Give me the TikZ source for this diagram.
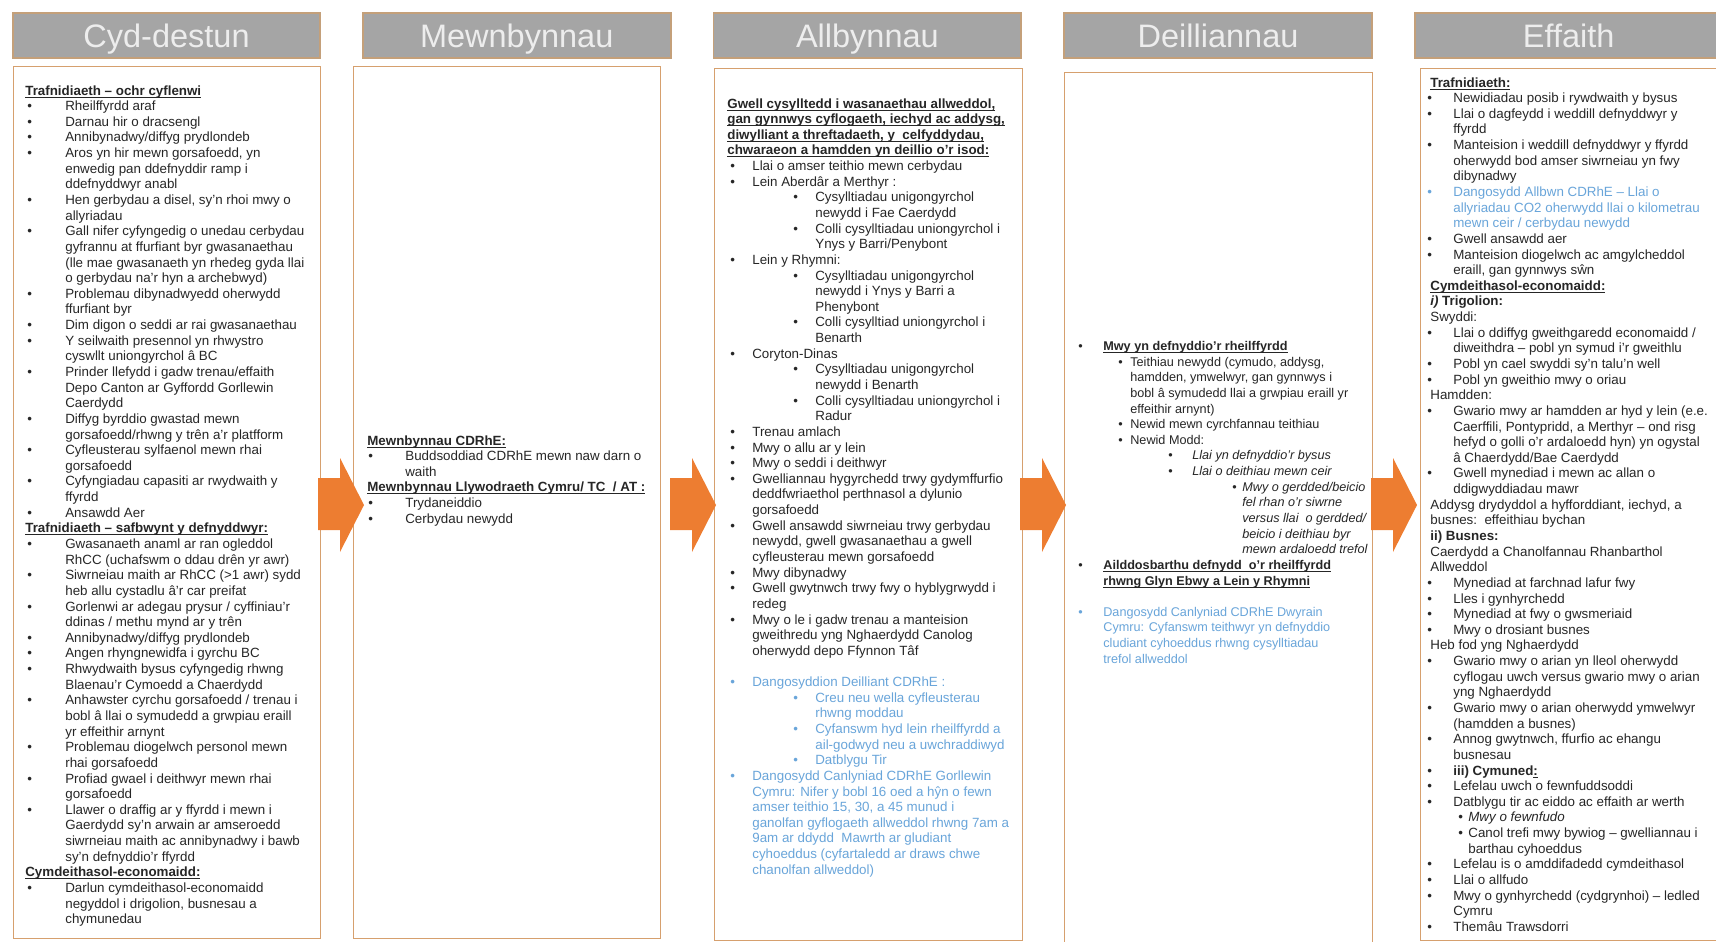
\documentclass[tikz,border=0pt]{standalone}
\usepackage{fontspec}
\setmainfont{Liberation Sans}
\usetikzlibrary{positioning}
\definecolor{hdrgray}{RGB}{165,165,165}
\definecolor{hdrline}{RGB}{196,160,122}
\definecolor{boxline}{RGB}{214,160,110}
\definecolor{arrorange}{RGB}{237,125,49}
\definecolor{txtgray}{RGB}{38,38,38}
\definecolor{idblue}{RGB}{105,165,218}
\newdimen\pxw \pxw=0.02cm
\newcommand{\itm}[2]{\hspace*{#1\pxw}\makebox[#2\pxw][l]{\textbullet}}
\newcommand{\cnt}[1]{\hspace*{#1\pxw}}
\newcommand{\ulx}[1]{\sbox0{#1}\rlap{\rule[-1.3pt]{\wd0}{0.45pt}}\box0}

\begin{document}
\begin{tikzpicture}[x=0.02cm, y=-0.02cm,
  hdr/.style={draw=hdrline, line width=1pt, fill=hdrgray, text=white!93!black, font=\fontsize{18.5}{20}\selectfont, minimum width=6.16cm, minimum height=0.9cm, text height=15.3pt, text depth=2pt, inner sep=0pt},
  box/.style={draw=boxline, line width=0.6pt, fill=white, anchor=north west, minimum height=17.44cm, inner sep=0pt},
  txt/.style={anchor=north west, align=left, inner sep=0pt, text=txtgray, font=\fontsize{7.6}{8.9}\selectfont},
  arw/.style={fill=arrorange}]
  \clip (0,0) rectangle (1716,941);

  % column heads
  \node[hdr, minimum width=6.14cm] (hdA) at (166.5,35.5) {Cyd-destun};
  \node[hdr, right=0.82cm of hdA] (hdB) {Mewnbynnau};
  \node[hdr, right=0.82cm of hdB] (hdC) {Allbynnau};
  \node[hdr, right=0.82cm of hdC] (hdD) {Deilliannau};
  \node[hdr, right=0.82cm of hdD] (hdE) {Effaith};

  % column boxes
  \node[box, minimum width=6.14cm] (bxA) at (13,66) {};
  \node[box, minimum width=6.14cm] (bxB) at (353,66) {};
  \node[box, minimum width=6.16cm] (bxC) at (714,68) {};
  \node[box, minimum width=6.16cm] (bxD) at (1064,72) {};
  \node[box, minimum width=6.3cm] (bxE) at (1420,68) {};

  % block arrows
  \fill[arw] (318,478) -- ++(22,0) -- ++(0,-20) -- ++(24,47) -- ++(-24,47) -- ++(0,-22) -- ++(-22,0) -- cycle;
  \fill[arw] (670,478) -- ++(22,0) -- ++(0,-20) -- ++(24,47) -- ++(-24,47) -- ++(0,-22) -- ++(-22,0) -- cycle;
  \fill[arw] (1020,478) -- ++(22,0) -- ++(0,-20) -- ++(24,47) -- ++(-24,47) -- ++(0,-22) -- ++(-22,0) -- cycle;
  \fill[arw] (1371,478) -- ++(22,0) -- ++(0,-20) -- ++(24,47) -- ++(-24,47) -- ++(0,-22) -- ++(-22,0) -- cycle;

  % Cyd-destun
  \node[txt] (tA) at (25,85) {%
    \ulx{\textbf{Trafnidiaeth -- ochr cyflenwi}}\\
    \itm{2}{38}Rheilffyrdd araf\\
    \itm{2}{38}Darnau hir o dracsengl\\
    \itm{2}{38}Annibynadwy/diffyg prydlondeb\\
    \itm{2}{38}Aros yn hir mewn gorsafoedd, yn\\
    \cnt{40}enwedig pan ddefnyddir ramp i\\
    \cnt{40}ddefnyddwyr anabl\\
    \itm{2}{38}Hen gerbydau a disel, sy'n rhoi mwy o\\
    \cnt{40}allyriadau\\
    \itm{2}{38}Gall nifer cyfyngedig o unedau cerbydau\\
    \cnt{40}gyfrannu at ffurfiant byr gwasanaethau\\
    \cnt{40}(lle mae gwasanaeth yn rhedeg gyda llai\\
    \cnt{40}o gerbydau na'r hyn a archebwyd)\\
    \itm{2}{38}Problemau dibynadwyedd oherwydd\\
    \cnt{40}ffurfiant byr\\
    \itm{2}{38}Dim digon o seddi ar rai gwasanaethau\\
    \itm{2}{38}Y seilwaith presennol yn rhwystro\\
    \cnt{40}cyswllt uniongyrchol â BC\\
    \itm{2}{38}Prinder llefydd i gadw trenau/effaith\\
    \cnt{40}Depo Canton ar Gyffordd Gorllewin\\
    \cnt{40}Caerdydd\\
    \itm{2}{38}Diffyg byrddio gwastad mewn\\
    \cnt{40}gorsafoedd/rhwng y trên a'r platfform\\
    \itm{2}{38}Cyfleusterau sylfaenol mewn rhai\\
    \cnt{40}gorsafoedd\\
    \itm{2}{38}Cyfyngiadau capasiti ar rwydwaith y\\
    \cnt{40}ffyrdd\\
    \itm{2}{38}Ansawdd Aer\\
    \ulx{\textbf{Trafnidiaeth -- safbwynt y defnyddwyr:}}\\
    \itm{2}{38}Gwasanaeth anaml ar ran ogleddol\\
    \cnt{40}RhCC (uchafswm o ddau drên yr awr)\\
    \itm{2}{38}Siwrneiau maith ar RhCC (>1 awr) sydd\\
    \cnt{40}heb allu cystadlu â'r car preifat\\
    \itm{2}{38}Gorlenwi ar adegau prysur / cyffiniau'r\\
    \cnt{40}ddinas / methu mynd ar y trên\\
    \itm{2}{38}Annibynadwy/diffyg prydlondeb\\
    \itm{2}{38}Angen rhyngnewidfa i gyrchu BC\\
    \itm{2}{38}Rhwydwaith bysus cyfyngedig rhwng\\
    \cnt{40}Blaenau'r Cymoedd a Chaerdydd\\
    \itm{2}{38}Anhawster cyrchu gorsafoedd / trenau i\\
    \cnt{40}bobl â llai o symudedd a grwpiau eraill\\
    \cnt{40}yr effeithir arnynt\\
    \itm{2}{38}Problemau diogelwch personol mewn\\
    \cnt{40}rhai gorsafoedd\\
    \itm{2}{38}Profiad gwael i deithwyr mewn rhai\\
    \cnt{40}gorsafoedd\\
    \itm{2}{38}Llawer o draffig ar y ffyrdd i mewn i\\
    \cnt{40}Gaerdydd sy'n arwain ar amseroedd\\
    \cnt{40}siwrneiau maith ac annibynadwy i bawb\\
    \cnt{40}sy'n defnyddio'r ffyrdd\\
    \ulx{\textbf{Cymdeithasol-economaidd:}}\\
    \itm{2}{38}Darlun cymdeithasol-economaidd\\
    \cnt{40}negyddol i drigolion, busnesau a\\
    \cnt{40}chymunedau};

  % Mewnbynnau
  \node[txt] (tB) at (367,435) {%
    \ulx{\textbf{Mewnbynnau CDRhE:}}\\
    \itm{1}{37}Buddsoddiad CDRhE mewn naw darn o\\
    \cnt{38}waith\\
    \ulx{\textbf{Mewnbynnau Llywodraeth Cymru/ TC\ \ / AT\ :}}\\
    \itm{1}{37}Trydaneiddio\\
    \itm{1}{37}Cerbydau newydd};

  % Allbynnau
  \node[txt] (tC) at (727,98) {%
    \ulx{\textbf{Gwell cysylltedd i wasanaethau allweddol,}}\\
    \ulx{\textbf{gan gynnwys cyflogaeth, iechyd ac addysg,}}\\
    \ulx{\textbf{diwylliant a threftadaeth, y\ \ celfyddydau,}}\\
    \ulx{\textbf{chwaraeon a hamdden yn deillio o'r isod:}}\\
    \itm{3}{22}Llai o amser teithio mewn cerbydau\\
    \itm{3}{22}Lein Aberdâr a Merthyr :\\
    \itm{66}{22}Cysylltiadau unigongyrchol\\
    \cnt{88}newydd i Fae Caerdydd\\
    \itm{66}{22}Colli cysylltiadau uniongyrchol i\\
    \cnt{88}Ynys y Barri/Penybont\\
    \itm{3}{22}Lein y Rhymni:\\
    \itm{66}{22}Cysylltiadau unigongyrchol\\
    \cnt{88}newydd i Ynys y Barri a\\
    \cnt{88}Phenybont\\
    \itm{66}{22}Colli cysylltiad uniongyrchol i\\
    \cnt{88}Benarth\\
    \itm{3}{22}Coryton-Dinas\\
    \itm{66}{22}Cysylltiadau unigongyrchol\\
    \cnt{88}newydd i Benarth\\
    \itm{66}{22}Colli cysylltiadau uniongyrchol i\\
    \cnt{88}Radur\\
    \itm{3}{22}Trenau amlach\\
    \itm{3}{22}Mwy o allu ar y lein\\
    \itm{3}{22}Mwy o seddi i deithwyr\\
    \itm{3}{22}Gwelliannau hygyrchedd trwy gydymffurfio\\
    \cnt{25}deddfwriaethol perthnasol a dylunio\\
    \cnt{25}gorsafoedd\\
    \itm{3}{22}Gwell ansawdd siwrneiau trwy gerbydau\\
    \cnt{25}newydd, gwell gwasanaethau a gwell\\
    \cnt{25}cyfleusterau mewn gorsafoedd\\
    \itm{3}{22}Mwy dibynadwy\\
    \itm{3}{22}Gwell gwytnwch trwy fwy o hyblygrwydd i\\
    \cnt{25}redeg\\
    \itm{3}{22}Mwy o le i gadw trenau a manteision\\
    \cnt{25}gweithredu yng Nghaerdydd Canolog\\
    \cnt{25}oherwydd depo Ffynnon Tâf\\[8.9pt]
    \textcolor{idblue}{\itm{3}{22}Dangosyddion Deilliant CDRhE :}\\
    \textcolor{idblue}{\itm{66}{22}Creu neu wella cyfleusterau}\\
    \textcolor{idblue}{\cnt{88}rhwng moddau}\\
    \textcolor{idblue}{\itm{66}{22}Cyfanswm hyd lein rheilffyrdd a}\\
    \textcolor{idblue}{\cnt{88}ail-godwyd neu a uwchraddiwyd}\\
    \textcolor{idblue}{\itm{66}{22}Datblygu Tir}\\
    \textcolor{idblue}{\itm{3}{22}Dangosydd Canlyniad CDRhE Gorllewin}\\
    \textcolor{idblue}{\cnt{25}Cymru: Nifer y bobl 16 oed a hŷn o fewn}\\
    \textcolor{idblue}{\cnt{25}amser teithio 15, 30, a 45 munud i}\\
    \textcolor{idblue}{\cnt{25}ganolfan gyflogaeth allweddol rhwng 7am a}\\
    \textcolor{idblue}{\cnt{25}9am ar ddydd\ \ Mawrth ar gludiant}\\
    \textcolor{idblue}{\cnt{25}cyhoeddus (cyfartaledd ar draws chwe}\\
    \textcolor{idblue}{\cnt{25}chanolfan allweddol)}};

  % Deilliannau
  \node[txt, font=\fontsize{7.2}{8.9}\selectfont] (tD) at (1078,341) {%
    \itm{0}{25}\ulx{\textbf{Mwy yn defnyddio'r rheilffyrdd}}\\
    \itm{40}{12}Teithiau newydd (cymudo, addysg,\\
    \cnt{52}hamdden, ymwelwyr, gan gynnwys i\\
    \cnt{52}bobl â symudedd llai a grwpiau eraill yr\\
    \cnt{52}effeithir arnynt)\\
    \itm{40}{12}Newid mewn cyrchfannau teithiau\\
    \itm{40}{12}Newid Modd:\\
    \itm{90}{24}\textit{Llai yn defnyddio'r bysus}\\
    \itm{90}{24}\textit{Llai o deithiau mewn ceir}\\
    \itm{154}{10}\textit{Mwy o gerdded/beicio}\\
    \cnt{164}\textit{fel rhan o'r siwrne}\\
    \cnt{164}\textit{versus llai\ \ o gerdded/}\\
    \cnt{164}\textit{beicio i deithiau byr}\\
    \cnt{164}\textit{mewn ardaloedd trefol}\\
    \itm{0}{25}\ulx{\textbf{Ailddosbarthu defnydd\ \ o'r rheilffyrdd}}\\
    \cnt{25}\ulx{\textbf{rhwng Glyn Ebwy a Lein y Rhymni}}\\[8.9pt]
    \textcolor{idblue}{\itm{0}{25}Dangosydd Canlyniad CDRhE Dwyrain}\\
    \textcolor{idblue}{\cnt{25}Cymru: Cyfanswm teithwyr yn defnyddio}\\
    \textcolor{idblue}{\cnt{25}cludiant cyhoeddus rhwng cysylltiadau}\\
    \textcolor{idblue}{\cnt{25}trefol allweddol}};

  % Effaith
  \node[txt] (tE) at (1427,77) {%
    \cnt{3}\ulx{\textbf{Trafnidiaeth:}}\\
    \itm{0}{26}Newidiadau posib i rywdwaith y bysus\\
    \itm{0}{26}Llai o dagfeydd i weddill defnyddwyr y\\
    \cnt{26}ffyrdd\\
    \itm{0}{26}Manteision i weddill defnyddwyr y ffyrdd\\
    \cnt{26}oherwydd bod amser siwrneiau yn fwy\\
    \cnt{26}dibynadwy\\
    \textcolor{idblue}{\itm{0}{26}Dangosydd Allbwn CDRhE -- Llai o}\\
    \textcolor{idblue}{\cnt{26}allyriadau CO2 oherwydd llai o kilometrau}\\
    \textcolor{idblue}{\cnt{26}mewn ceir / cerbydau newydd}\\
    \itm{0}{26}Gwell ansawdd aer\\
    \itm{0}{26}Manteision diogelwch ac amgylcheddol\\
    \cnt{26}eraill, gan gynnwys sŵn\\
    \cnt{3}\ulx{\textbf{Cymdeithasol-economaidd:}}\\
    \cnt{3}\textbf{\textit{i)} Trigolion:}\\
    \cnt{3}Swyddi:\\
    \itm{0}{26}Llai o ddiffyg gweithgaredd economaidd /\\
    \cnt{26}diweithdra -- pobl yn symud i'r gweithlu\\
    \itm{0}{26}Pobl yn cael swyddi sy'n talu'n well\\
    \itm{0}{26}Pobl yn gweithio mwy o oriau\\
    \cnt{3}Hamdden:\\
    \itm{0}{26}Gwario mwy ar hamdden ar hyd y lein (e.e.\\
    \cnt{26}Caerffili, Pontypridd, a Merthyr -- ond risg\\
    \cnt{26}hefyd o golli o'r ardaloedd hyn) yn ogystal\\
    \cnt{26}â Chaerdydd/Bae Caerdydd\\
    \itm{0}{26}Gwell mynediad i mewn ac allan o\\
    \cnt{26}ddigwyddiadau mawr\\
    \cnt{3}Addysg drydyddol a hyfforddiant, iechyd, a\\
    \cnt{3}busnes:\ \ effeithiau bychan\\
    \cnt{3}\textbf{ii) Busnes:}\\
    \cnt{3}Caerdydd a Chanolfannau Rhanbarthol\\
    \cnt{3}Allweddol\\
    \itm{0}{26}Mynediad at farchnad lafur fwy\\
    \itm{0}{26}Lles i gynhyrchedd\\
    \itm{0}{26}Mynediad at fwy o gwsmeriaid\\
    \itm{0}{26}Mwy o drosiant busnes\\
    \cnt{3}Heb fod yng Nghaerdydd\\
    \itm{0}{26}Gwario mwy o arian yn lleol oherwydd\\
    \cnt{26}cyflogau uwch versus gwario mwy o arian\\
    \cnt{26}yng Nghaerdydd\\
    \itm{0}{26}Gwario mwy o arian oherwydd ymwelwyr\\
    \cnt{26}(hamdden a busnes)\\
    \itm{0}{26}Annog gwytnwch, ffurfio ac ehangu\\
    \cnt{26}busnesau\\
    \itm{0}{26}\textbf{iii) Cymuned\ulx{:}}\\
    \itm{0}{26}Lefelau uwch o fewnfuddsoddi\\
    \itm{0}{26}Datblygu tir ac eiddo ac effaith ar werth\\
    \itm{31}{10}\textit{Mwy o fewnfudo}\\
    \itm{31}{10}Canol trefi mwy bywiog -- gwelliannau i\\
    \cnt{41}barthau cyhoeddus\\
    \itm{0}{26}Lefelau is o amddifadedd cymdeithasol\\
    \itm{0}{26}Llai o allfudo\\
    \itm{0}{26}Mwy o gynhyrchedd (cydgrynhoi) -- ledled\\
    \cnt{26}Cymru\\
    \itm{0}{26}Themâu Trawsdorri};
\end{tikzpicture}
\end{document}
